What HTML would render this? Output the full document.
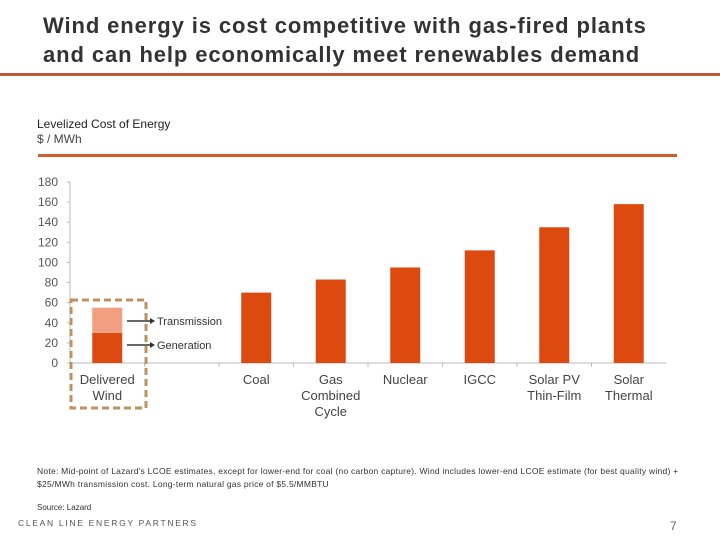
<!DOCTYPE html>
<html><head><meta charset="utf-8"><style>
body{margin:0;width:720px;height:540px;background:#fff;overflow:hidden;font-family:"Liberation Sans",sans-serif;position:relative}
.t{position:absolute;color:#3a3a3a}
</style></head><body>
<div class="t" style="left:43px;top:11px;font-size:22px;font-weight:bold;line-height:29px;color:#333;letter-spacing:0.9px;white-space:nowrap">Wind energy is cost competitive with gas-fired plants<br>and can help economically meet renewables demand</div>
<div style="position:absolute;left:0;top:73px;width:720px;height:3px;background:#c0583a"></div>
<div class="t" style="left:37px;top:117px;font-size:12px;line-height:15px;color:#222">Levelized Cost of Energy<br><span style="color:#444">$ / MWh</span></div>
<div style="position:absolute;left:38px;top:154px;width:639px;height:3px;background:#d0602a"></div>
<svg id="c" width="720" height="540" style="position:absolute;left:0;top:0"></svg>
<div class="t" style="left:37px;top:465px;font-size:8.5px;letter-spacing:0.25px;line-height:13px;color:#333;width:680px">Note: Mid-point of Lazard's LCOE estimates, except for lower-end for coal (no carbon capture). Wind includes lower-end LCOE estimate (for best quality wind) + $25/MWh transmission cost. Long-term natural gas price of $5.5/MMBTU</div>
<div class="t" style="left:37px;top:503px;font-size:8px;color:#333">Source: Lazard</div>
<div class="t" style="left:18px;top:518px;font-size:8.5px;letter-spacing:1.7px;color:#555;white-space:nowrap">CLEAN LINE ENERGY PARTNERS</div>
<div class="t" style="left:670px;top:519px;font-size:12px;color:#666">7</div>
<script>
const categories=["Delivered|Wind","","Coal","Gas|Combined|Cycle","Nuclear","IGCC","Solar PV|Thin-Film","Solar|Thermal"];
const generation=[30,null,70,83,95,112,135,158];
const transmission=[25,null,0,0,0,0,0,0];
const yTicks=[0,20,40,60,80,100,120,140,160,180];
const svg=document.getElementById('c');const NS='http://www.w3.org/2000/svg';
const x0=70,slot=74.5,y0=363,yTop=182,yMax=180,bw=30;
const y=v=>y0-(v/yMax)*(y0-yTop);
const cx=i=>x0+slot*(i+0.5);
function mk(t,a,txt){const e=document.createElementNS(NS,t);for(const k in a)e.setAttribute(k,a[k]);if(txt!=null)e.textContent=txt;svg.appendChild(e);return e;}
let e;
e=mk('line',{x1:x0,y1:yTop,x2:x0,y2:y0,stroke:'#bbb'});


e=mk('line',{x1:x0,y1:y0,x2:x0+slot*8,y2:y0,stroke:'#bbb'});


yTicks.forEach(v=>{
 e=mk('text',{x:58,y:y(v)+4,'text-anchor':'end','font-size':12,fill:'#555'},v);
 
 
 mk('line',{x1:x0-3,y1:y(v),x2:x0,y2:y(v),stroke:'#bbb'});
});
for(let i=1;i<8;i++){mk('line',{x1:x0+slot*i,y1:y0,x2:x0+slot*i,y2:y0+4,stroke:'#bbb'});}
categories.forEach((c,i)=>{
 if(generation[i]!=null){
  e=mk('rect',{x:cx(i)-bw/2,y:y(generation[i]),width:bw,height:y0-y(generation[i]),fill:'#dd4a10'});
  
  
  if(transmission[i]){
   e=mk('rect',{x:cx(i)-bw/2,y:y(generation[i]+transmission[i]),width:bw,height:y(generation[i])-y(generation[i]+transmission[i]),fill:'#f0a080'});
   
   
  }
 }
 c.split('|').forEach((ln,j)=>{if(!ln)return;
  e=mk('text',{x:cx(i),y:384+j*16,'text-anchor':'middle','font-size':13,fill:'#444'},ln);
  
  
 });
});
e=mk('rect',{x:71,y:300,width:75,height:108,fill:'none',stroke:'#c09060','stroke-width':3,'stroke-dasharray':'7,4'});


[[generation[0]+transmission[0]/2,'Transmission'],[generation[0]/2,'Generation']].forEach(([v,t])=>{
 const yy=v<30?345:321;
 mk('line',{x1:127,y1:yy,x2:150,y2:yy,stroke:'#333','stroke-width':1.5});
 mk('polygon',{points:`150,${yy-3} 155,${yy} 150,${yy+3}`,fill:'#333'});
 e=mk('text',{x:157,y:yy+4,'font-size':11,fill:'#333'},t);
 
 
});
</script>
</body></html>
